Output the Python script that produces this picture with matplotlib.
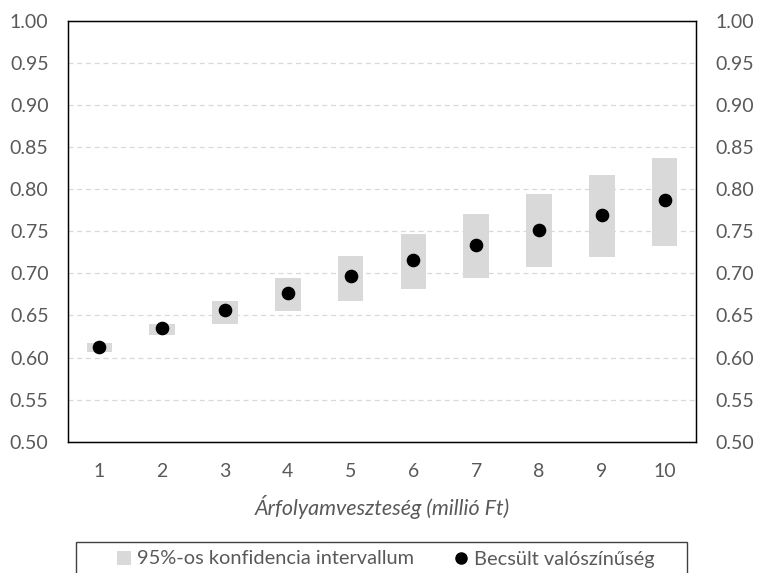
import matplotlib
matplotlib.use("Agg")
import matplotlib.pyplot as plt
from matplotlib.patches import Rectangle
from matplotlib.lines import Line2D

plt.rcParams['font.family'] = ['Lato', 'DejaVu Sans']

categories = [1, 2, 3, 4, 5, 6, 7, 8, 9, 10]
ci_low = [0.607, 0.627, 0.640, 0.655, 0.667, 0.681, 0.695, 0.708, 0.720, 0.733]
ci_high = [0.617, 0.640, 0.667, 0.695, 0.721, 0.747, 0.771, 0.794, 0.817, 0.837]
estimate = [0.613, 0.635, 0.656, 0.677, 0.697, 0.716, 0.734, 0.752, 0.770, 0.787]
yticks = [0.50, 0.55, 0.60, 0.65, 0.70, 0.75, 0.80, 0.85, 0.90, 0.95, 1.00]

text_color = '#595959'
W, H = 760, 573
fig = plt.figure(figsize=(W / 100, H / 100), dpi=100)
ax = fig.add_axes([68 / W, 1 - 441.7 / H, (696 - 68) / W, (441.7 - 21) / H])

x = list(range(len(categories)))
heights = [h - l for h, l in zip(ci_high, ci_low)]
ax.bar(x, heights, bottom=ci_low, width=0.41, color='#d9d9d9', zorder=2)
ax.plot(x, estimate, 'o', color='black', markersize=8.8, zorder=3)

ax.set_xlim(-0.5, len(categories) - 0.5)
ax.set_ylim(0.5, 1.0)
ax.set_yticks(yticks)
ax.set_yticklabels([f"{v:.2f}" for v in yticks])
ax.set_xticks(x)
ax.set_xticklabels([str(c) for c in categories])
ax.tick_params(axis='both', length=0, labelsize=14, colors=text_color)
ax.tick_params(axis='y', pad=14)
ax.tick_params(axis='x', pad=15)
ax.grid(axis='y', color='#d9d9d9', linestyle=(0, (4, 3)), linewidth=0.9, zorder=1)
for s in ax.spines.values():
    s.set_color('black')
    s.set_linewidth(1.0)

ax2 = ax.twinx()
ax2.set_ylim(0.5, 1.0)
ax2.set_yticks(yticks)
ax2.set_yticklabels([f"{v:.2f}" for v in yticks])
ax2.tick_params(axis='y', length=0, labelsize=14, colors=text_color, pad=14)

ax.set_xlabel('Árfolyamveszteség (millió Ft)', fontsize=15.5, style='italic',
              color=text_color, labelpad=11)

# legend frame (cut off by figure bottom)
fig.patches.append(Rectangle((76 / W, -0.05), (687 - 76) / W, 0.05 + 1 - 541.7 / H,
                             transform=fig.transFigure, facecolor='none',
                             edgecolor='#404040', linewidth=1.0, clip_on=False))
handles = [Rectangle((0, 0), 1, 1, facecolor='#d9d9d9', edgecolor='none'),
           Line2D([], [], marker='o', color='black', linestyle='none', markersize=8)]
fig.legend(handles, ['95%-os konfidencia intervallum', 'Becsült valószínűség'],
           loc='center', bbox_to_anchor=(386 / W, 1 - 559 / H), ncol=2, frameon=False,
           fontsize=14.4, labelcolor=text_color, handlelength=0.7, handleheight=0.7,
           handletextpad=0.3, columnspacing=2.0)

fig.savefig('out.png', dpi=100)
